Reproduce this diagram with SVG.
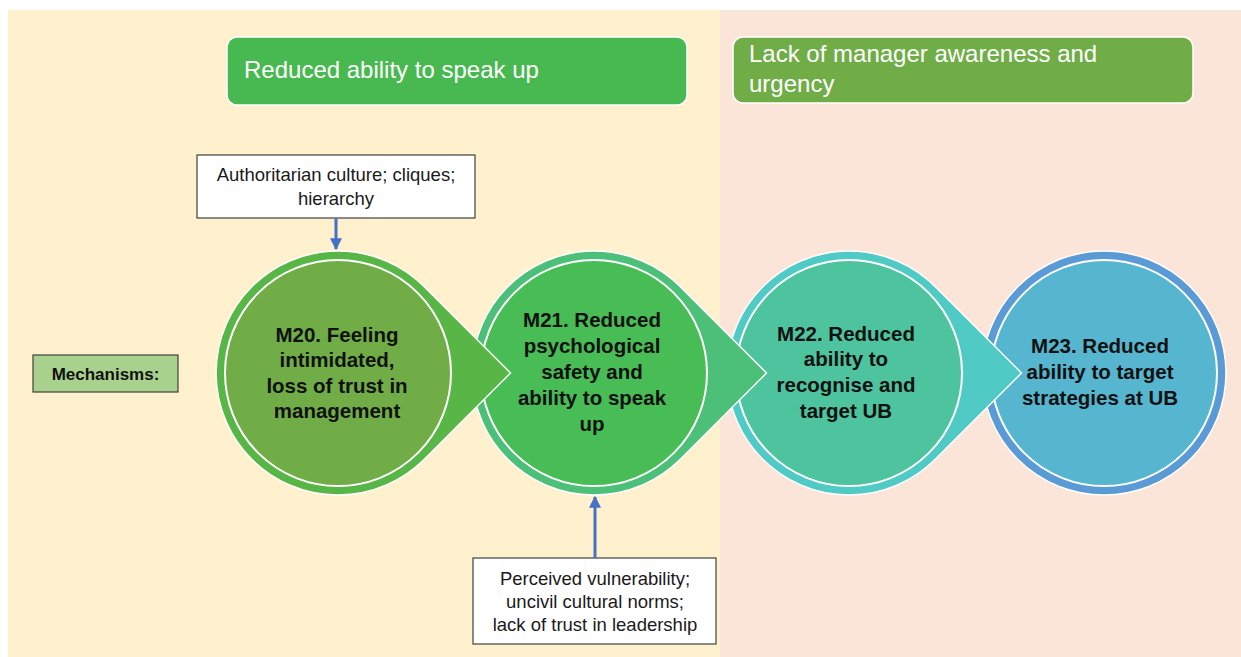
<svg xmlns="http://www.w3.org/2000/svg" width="1241" height="657" viewBox="0 0 1241 657">
<defs>
<style>
.hdr{font-family:"Liberation Sans",Arial,sans-serif;font-size:24px;fill:#ffffff}
.lbl{font-family:"Liberation Sans",Arial,sans-serif;font-size:20.5px;font-weight:bold;fill:#111111;text-anchor:middle}
.box{fill:#ffffff;stroke:#404040;stroke-width:1.2}
.note{font-family:"Liberation Sans",Arial,sans-serif;font-size:18.5px;fill:#1a1a1a;text-anchor:middle}
.outer{stroke:#ffffff;stroke-width:1.5}
.inner{stroke:#ffffff;stroke-width:2}
.conn{stroke:#4472C4;stroke-width:3;fill:none}
</style>
<marker id="ah" viewBox="0 0 10 10" refX="9" refY="5" markerWidth="4" markerHeight="4" orient="auto" markerUnits="strokeWidth">
<path d="M0,0 L10,5 L0,10 Z" fill="#4472C4"/>
</marker>
</defs>
<rect x="0" y="0" width="1241" height="657" fill="#ffffff"/>
<rect x="8" y="10" width="712" height="647" fill="#FFF0CE"/>
<rect x="720" y="10" width="521" height="647" fill="#FBE4D8"/>

<g id="header-speak-up">
<rect x="227" y="37" width="460" height="68" rx="10" fill="#47B950" stroke="#ffffff" stroke-width="1.5"/>
<text class="hdr" x="244" y="78">Reduced ability to speak up</text>
</g>
<g id="header-manager">
<rect x="733" y="37" width="460" height="66" rx="10" fill="#70AD47" stroke="#ffffff" stroke-width="1.5"/>
<text class="hdr" x="749" y="62">Lack of manager awareness and</text>
<text class="hdr" x="749" y="92">urgency</text>
</g>

<g id="mechanisms">
<rect x="33" y="355" width="145" height="37" fill="#A9D18E" stroke="#404040" stroke-width="1.2"/>
<text x="105.5" y="380" font-family="Liberation Sans, Arial, sans-serif" font-size="17" font-weight="bold" fill="#111111" text-anchor="middle">Mechanisms:</text>
</g>

<g id="M23">
<circle class="outer" cx="1104" cy="373" r="122" fill="#5B9BD5"/>
<circle class="inner" cx="1104" cy="373" r="113" fill="#56B5CF"/>
<text class="lbl" x="1100" y="353">M23. Reduced</text>
<text class="lbl" x="1100" y="379">ability to target</text>
<text class="lbl" x="1100" y="405">strategies at UB</text>
</g>

<g id="M22">
<path class="outer" d="M1021.5,373 L935.3,286.7 A122,122 0 1 0 935.3,459.3 Z" fill="#50CAC4"/>
<circle class="inner" cx="849" cy="373" r="113" fill="#4DC49E"/>
<text class="lbl" x="846" y="341">M22. Reduced</text>
<text class="lbl" x="846" y="366">ability to</text>
<text class="lbl" x="846" y="392">recognise and</text>
<text class="lbl" x="846" y="418">target UB</text>
</g>

<g id="M21">
<path class="outer" d="M766.5,373 L680.3,286.7 A122,122 0 1 0 680.3,459.3 Z" fill="#4CBF78"/>
<circle class="inner" cx="594" cy="373" r="113" fill="#48BC55"/>
<text class="lbl" x="592" y="327">M21. Reduced</text>
<text class="lbl" x="592" y="353">psychological</text>
<text class="lbl" x="592" y="379">safety and</text>
<text class="lbl" x="592" y="405">ability to speak</text>
<text class="lbl" x="592" y="431">up</text>
</g>

<g id="M20">
<path class="outer" d="M510.5,373 L424.3,286.7 A122,122 0 1 0 424.3,459.3 Z" fill="#58B646"/>
<circle class="inner" cx="338" cy="373" r="113" fill="#70AD47"/>
<text class="lbl" x="337" y="342">M20. Feeling</text>
<text class="lbl" x="337" y="367">intimidated,</text>
<text class="lbl" x="337" y="393">loss of trust in</text>
<text class="lbl" x="337" y="418">management</text>
</g>

<g id="note-authoritarian">
<rect class="box" x="197" y="155" width="278" height="63"/>
<text class="note" x="336" y="181">Authoritarian culture; cliques;</text>
<text class="note" x="336" y="205">hierarchy</text>
</g>

<g id="note-vulnerability">
<rect class="box" x="473" y="558" width="243" height="86"/>
<text class="note" x="595" y="585">Perceived vulnerability;</text>
<text class="note" x="595" y="608">uncivil cultural norms;</text>
<text class="note" x="595" y="631">lack of trust in leadership</text>
</g>

<g id="connectors">
<line class="conn" x1="336" y1="218" x2="336" y2="249" marker-end="url(#ah)"/>
<line class="conn" x1="595" y1="558" x2="595" y2="497" marker-end="url(#ah)"/>
</g>
</svg>
